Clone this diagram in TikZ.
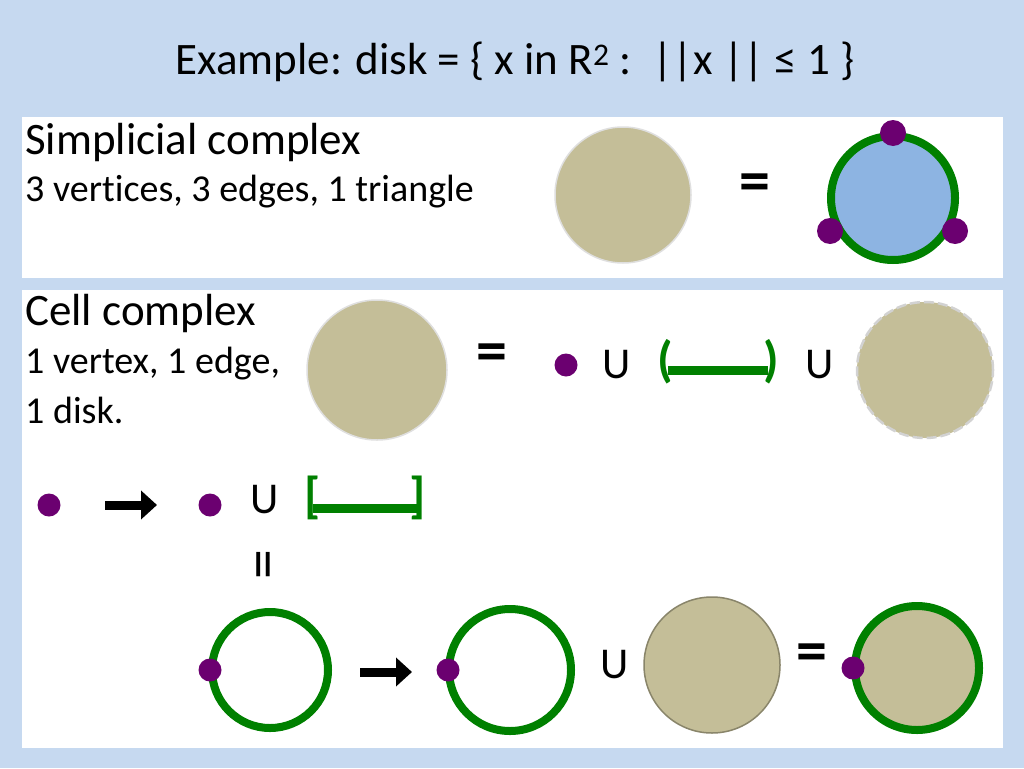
\documentclass[tikz,border=0pt]{standalone}
\usepackage{fontspec}
\setmainfont[Ligatures=NoCommon]{Carlito}
\usetikzlibrary{arrows.meta}
\definecolor{slidebg}{HTML}{C6D9F0}
\definecolor{tan}{HTML}{C4BE98}
\definecolor{diskblue}{HTML}{8DB4E2}
\definecolor{edgegreen}{HTML}{008000}
\definecolor{dotpurple}{HTML}{6B0070}
\begin{document}
\begin{tikzpicture}[x=1pt,y=-1pt,
        every node/.append style={inner sep=0pt},
        txt/.style={font=\fontsize{38}{42}\selectfont, anchor=west},
        head/.style={font=\fontsize{45}{50}\selectfont, anchor=west},
        big/.style={font=\fontsize{44}{48}\selectfont},
        eq/.style={font=\fontsize{62}{66}\selectfont\bfseries},
        dot/.style={circle, fill=dotpurple, minimum size=23pt},
        disk/.style={circle, fill=tan, draw=gray!25, line width=1.5pt},
        ring/.style={circle, draw=edgegreen, line width=8pt},
        edge/.style={edgegreen, line width=9pt},
        brk/.style={edgegreen, font=\fontsize{50}{54}\selectfont\bfseries},
        blockarrow/.style={line width=9pt, -{Triangle[length=16pt,width=28pt]}}
    ]
        \fill [slidebg] (0,0) rectangle (1024,768);
        \fill [white] (22,117) rectangle (1003,278);
        \fill [white] (22,290) rectangle (1003,748);

        \node [font=\fontsize{45}{50}\selectfont] (title) at (515,62) {Example: disk = \{ x in R\textsuperscript{2} :\ \ ||x || ≤ 1 \}};

        % simplicial complex
        \node [head] (simp) at (25,143) {Simplicial complex};
        \node [txt] (simpcount) at (25,192) {3 vertices, 3 edges, 1 triangle};
        \node [disk, minimum size=136pt] (sdisk) at (623,195) {};
        \node [eq] (seq) at (755,188) {=};
        \node [circle, fill=diskblue, draw=edgegreen, line width=8pt, minimum size=124pt] (tri) at (893,198) {};
        \node [dot, minimum size=26pt] (v1) at (893,133) {};
        \node [dot, minimum size=26pt] (v2) at (830,231) {};
        \node [dot, minimum size=26pt] (v3) at (955,231) {};

        % cell complex
        \node [head] (cell) at (25,313) {Cell complex};
        \node [txt] (cellcount) at (25,364) {1 vertex, 1 edge,};
        \node [txt] (celldisk) at (25,410) {1 disk.};
        \node [disk, minimum size=140pt] (cdisk) at (377,370) {};
        \node [eq] (ceq) at (492,358) {=};
        \node [dot] (cv) at (566,365) {};
        \node [big] (cu1) at (617,365) {U};
        \draw [edge] (668,370) -- (768,370);
        \node [brk] (lpar) at (665,362) {(};
        \node [brk] (rpar) at (771,362) {)};
        \node [big] (cu2) at (820,365) {U};
        \node [circle, fill=tan, draw=gray!35, dash pattern=on 10pt off 4pt, line width=2.5pt, minimum size=136pt] (odisk) at (925,370) {};

        % attaching
        \node [dot] (a0) at (49,505) {};
        \draw [blockarrow] (105,505) -- (157,505);
        \node [dot] (a1) at (210,505) {};
        \node [big] (au) at (265,500) {U};
        \draw [edge] (313,508) -- (418,508);
        \node [brk] (lbr) at (313,498) {[};
        \node [brk] (rbr) at (418,498) {]};
        \node [font=\fontsize{60}{64}\selectfont, rotate=90] (veq) at (270,565) {=};

        \node [ring, minimum size=116pt] (c1) at (270,670) {};
        \node [dot] (c1v) at (210,670) {};
        \draw [blockarrow] (360,672) -- (412,672);
        \node [ring, minimum size=122pt] (c2) at (510,670) {};
        \node [dot] (c2v) at (448,670) {};
        \node [big] (bu) at (615,665) {U};
        \node [circle, fill=tan, draw=tan!70!black, line width=1.5pt, minimum size=136pt] (bdisk) at (712,665) {};
        \node [eq] (beq) at (812,658) {=};
        \node [circle, fill=tan, draw=edgegreen, line width=8pt, minimum size=124pt] (full) at (917,668) {};
        \node [dot] (fv) at (853,668) {};
    \end{tikzpicture}
\end{document}
